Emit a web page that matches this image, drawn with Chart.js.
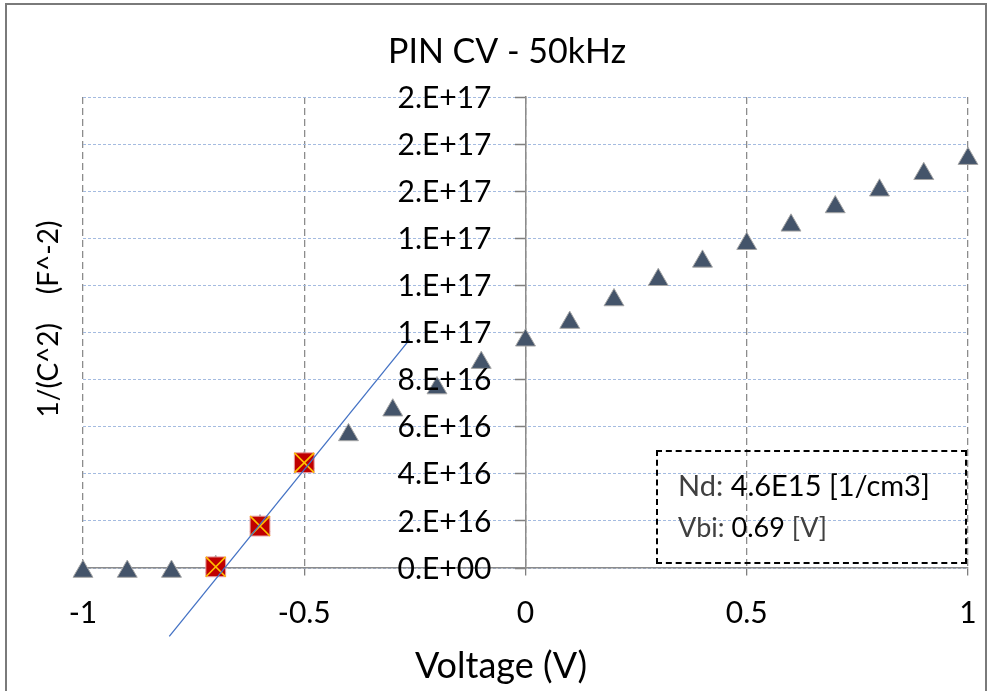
<!DOCTYPE html>
<html>
<head>
<meta charset="utf-8">
<title>PIN CV - 50kHz</title>
<script src="https://cdn.jsdelivr.net/npm/chart.js@4.4.1/dist/chart.umd.min.js"></script>
<style>
  html, body { margin: 0; padding: 0; background: #fff; }
  #wrap { position: relative; width: 995px; height: 691px; overflow: hidden; }
  #frame {
    position: absolute; left: 5px; top: 3px; width: 978px; height: 720px;
    border: 2px solid #7a7a7a; pointer-events: none;
  }
  #infoBox {
    position: absolute; left: 656px; top: 450px; width: 307px; height: 110px;
    border: 2px dashed #000; font-family: Lato, sans-serif; color: #000;
  }
  #infoBox .row { position: absolute; left: 20px; white-space: nowrap; }
  #infoBox .lbl { color: #404040; }
</style>
</head>
<body>
<div id="wrap">
  <canvas id="cvChart" width="995" height="691"></canvas>
  <div id="frame"></div>
  <div id="infoBox">
    <div class="row" style="top: 15px; font-size: 29px; line-height: 35px;"><span class="lbl">Nd:</span> 4.6E15 [1/cm3]</div>
    <div class="row" style="top: 58px; font-size: 27px; line-height: 33px;"><span class="lbl">Vbi:</span> 0.69 <span class="lbl">[V]</span></div>
  </div>
</div>
<script>
// --- Data ---
const voltages = [-1, -0.9, -0.8, -0.7, -0.6, -0.5, -0.4, -0.3, -0.2, -0.1, 0,
  0.1, 0.2, 0.3, 0.4, 0.5, 0.6, 0.7, 0.8, 0.9, 1];
const invC2 = [-0.15e16, -0.15e16, -0.15e16, 0.05e16, 1.78e16, 4.47e16, 5.65e16, 6.70e16, 7.64e16, 8.72e16, 9.67e16,
  10.42e16, 11.38e16, 12.24e16, 13.02e16, 13.77e16, 14.55e16, 15.33e16, 16.04e16, 16.74e16, 17.38e16];

// points used for the linear fit
const fitV = [-0.7, -0.6, -0.5];
const fitY = [0.05e16, 1.78e16, 4.47e16];

// fitted line end points
const trendV = [-0.805, -0.262];
const trendY = [-2.9e16, 9.7e16];

const xTickLabels = ['-1', '-0.5', '0', '0.5', '1'];
const yTickLabels = ['0.E+00', '2.E+16', '4.E+16', '6.E+16', '8.E+16',
  '1.E+17', '1.E+17', '1.E+17', '2.E+17', '2.E+17', '2.E+17'];

const chartTitle = 'PIN CV - 50kHz';
const xTitle = 'Voltage (V)';
const yTitle = '1/(C^2)    (F^-2)';

const toPoints = (xs, ys) => xs.map((x, i) => ({ x: x, y: ys[i] }));

// --- Titles and y tick labels (the y axis crosses at x = 0, Chart.js
// puts those labels flush on the axis, so they are drawn here) ---
const textPlugin = {
  id: 'cvText',
  afterDraw(chart) {
    const ctx = chart.ctx;
    const yScale = chart.scales.y;
    const axisX = chart.scales.x.getPixelForValue(0);
    ctx.save();
    ctx.fillStyle = '#000';
    ctx.textBaseline = 'middle';

    // y tick labels
    ctx.font = '30px Lato';
    ctx.textAlign = 'right';
    yScale.ticks.forEach((tick, i) => {
      ctx.fillText(yTickLabels[i], axisX - 34, yScale.getPixelForValue(tick.value) + 1);
    });

    // chart title
    ctx.textAlign = 'center';
    ctx.font = '34px Lato';
    ctx.fillText(chartTitle, 507, 52);

    // x title
    ctx.font = '36px Lato';
    ctx.fillText(xTitle, 501, 666);

    // y title
    ctx.translate(49, 319);
    ctx.rotate(-Math.PI / 2);
    ctx.font = '28px Lato';
    ctx.fillText(yTitle, 0, 0);
    ctx.restore();
  }
};

function initChart() {
  const ctx = document.getElementById('cvChart').getContext('2d');

  new Chart(ctx, {
    type: 'scatter',
    data: {
      datasets: [
        {
          label: 'fit',
          type: 'line',
          data: toPoints(trendV, trendY),
          borderColor: '#4472C4',
          borderWidth: 1.3,
          pointRadius: 0,
          clip: false,
          order: 0
        },
        {
          label: 'fit points x',
          data: toPoints(fitV, fitY),
          pointStyle: 'crossRot',
          pointRadius: 14,
          borderColor: '#FFC000',
          borderWidth: 1.6,
          clip: false,
          order: 1
        },
        {
          label: 'fit points',
          data: toPoints(fitV, fitY),
          pointStyle: 'rect',
          pointRadius: 14,
          backgroundColor: '#C00000',
          borderColor: '#E8A0A0',
          borderWidth: 1,
          clip: false,
          order: 2
        },
        {
          label: '1/C^2',
          data: toPoints(voltages, invC2),
          pointStyle: 'triangle',
          pointRadius: 11.5,
          backgroundColor: '#44546A',
          borderColor: '#A6A6A6',
          borderWidth: 1,
          clip: false,
          order: 3
        }
      ]
    },
    options: {
      responsive: false,
      animation: false,
      layout: { padding: { left: 83, right: 27, top: 97, bottom: 0 } },
      plugins: {
        legend: { display: false },
        tooltip: { enabled: false },
        title: { display: false }
      },
      scales: {
        x: {
          type: 'linear',
          min: -1,
          max: 1,
          afterFit(scale) { scale.height = 123; },
          ticks: {
            stepSize: 0.5,
            padding: 17,
            color: '#000',
            font: { family: 'Lato', size: 30 },
            callback: (value, index) => xTickLabels[index]
          },
          grid: {
            color: '#8C8C8C',
            lineWidth: 1.3,
            tickLength: 10,
            tickColor: '#7F7F7F',
            tickBorderDash: [7, 4]
          },
          border: { display: true, color: '#8C8C8C', width: 1.5, dash: [7, 4] }
        },
        y: {
          type: 'linear',
          position: { x: 0 },
          min: 0,
          max: 2e17,
          ticks: {
            stepSize: 2e16,
            display: false
          },
          grid: {
            color: '#A4BBE0',
            lineWidth: 1,
            tickLength: 10,
            tickColor: '#7F7F7F',
            tickWidth: 1.5,
            tickBorderDash: []
          },
          border: { display: true, color: '#8C8C8C', width: 1.5, dash: [3, 2] }
        }
      }
    },
    plugins: [textPlugin]
  });
}

document.fonts.load('30px Lato').then(initChart, initChart);
</script>
</body>
</html>
